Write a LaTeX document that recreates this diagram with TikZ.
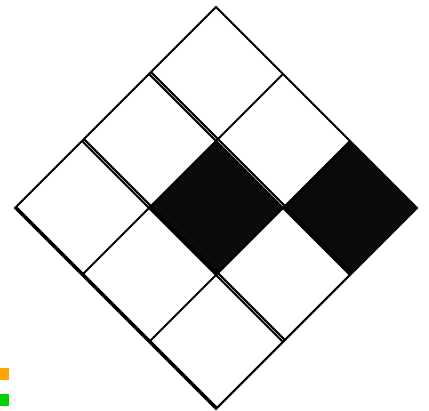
\documentclass[tikz,border=0pt]{standalone}
\usetikzlibrary{calc}
\definecolor{CellClr}{rgb}{0.04,0.04,0.04}
\definecolor{MarkOrange}{rgb}{1,0.65,0}
\definecolor{MarkGreen}{rgb}{0,0.82,0}

\begin{document}
\begin{tikzpicture}[x=1pt,y=1pt]
\useasboundingbox (0,0) rectangle (429,411);

% little colour marks
\fill[MarkOrange] (0,31) rectangle (9,43);
\fill[MarkGreen] (0,5) rectangle (9,17);

\begin{scope}[shift={(15,203)},rotate=-45,x=94.75pt,y=94.75pt,line width=2.1pt]
\fill[CellClr] (1,1) rectangle (2,2);
\fill[CellClr] (2,2) rectangle (3,3);

\draw (0,0) rectangle (3,3);
\draw (1,0) -- (1,3) (2,0) -- (2,3);
\draw (0,1) -- (3,1) (0,2) -- (3,2);

% doubled edges
\draw[line width=3pt] (0,0.012) -- (3,0.012);
\foreach \r in {1,2}
  \draw (0,\r+0.029) -- (3,\r+0.029);
\end{scope}

\end{tikzpicture}
\end{document}
